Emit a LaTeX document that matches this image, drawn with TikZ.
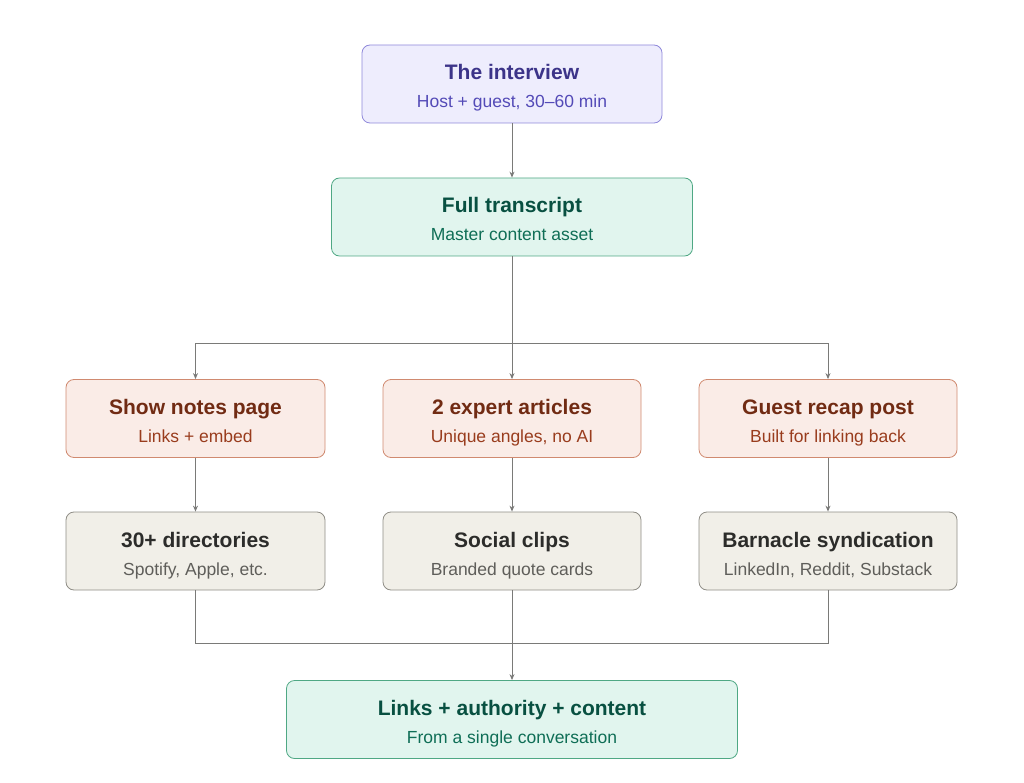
\documentclass[tikz,border=0pt]{standalone}
\usepackage{fontspec}
\setmainfont{Liberation Sans}
\usetikzlibrary{arrows.meta}
\definecolor{pf}{HTML}{EEEDFD}\definecolor{pb}{HTML}{8F88DA}\definecolor{pt}{HTML}{3C3489}\definecolor{ps}{HTML}{534AB7}
\definecolor{gf}{HTML}{E1F5EE}\definecolor{gb}{HTML}{4FA884}\definecolor{gt}{HTML}{085041}\definecolor{gs}{HTML}{0F6E56}
\definecolor{sf}{HTML}{FAECE7}\definecolor{sbd}{HTML}{D08A70}\definecolor{st}{HTML}{712B13}\definecolor{ss}{HTML}{993C1D}
\definecolor{nf}{HTML}{F1EFE8}\definecolor{nb}{HTML}{8F8D86}\definecolor{nt}{HTML}{2C2C2A}\definecolor{ns}{HTML}{5F5E5A}
\definecolor{lnc}{HTML}{7A7A78}
\begin{document}
\begin{tikzpicture}[x=1pt,y=-1pt,
 box/.style 2 args={draw=#2,fill=#1,rounded corners=8pt,line width=0.8pt,inner sep=0pt},
 ttl/.style={font=\bfseries\fontsize{21}{24}\selectfont,anchor=base},
 sub/.style={font=\fontsize{17.5}{20}\selectfont,anchor=base},
 arr/.style={draw=lnc,line width=1pt,-{Stealth[length=6pt,width=5pt]}},
 ln/.style={draw=lnc,line width=1pt}]
\useasboundingbox (0,0) rectangle (1024,783);
\newcommand\mybx[9]{%
 \node[box={#6}{#7},minimum width=#4pt,minimum height=78pt] (#1) at (#2,#3) {};
 \node[ttl,text=#8] at (#2,#3-4) {#5};
 \node[sub,text=#9] at (#2,#3+24) {\mysubtext};}
\newcommand\mysubtext{}
\renewcommand\mysubtext{Host + guest, 30–60 min}
\mybx{a}{512}{84}{300}{The interview}{pf}{pb}{pt}{ps}
\renewcommand\mysubtext{Master content asset}
\mybx{b}{512}{217}{361}{Full transcript}{gf}{gb}{gt}{gs}
\renewcommand\mysubtext{Links + embed}
\mybx{c1}{195.5}{418.5}{259}{Show notes page}{sf}{sbd}{st}{ss}
\renewcommand\mysubtext{Unique angles, no AI}
\mybx{c2}{512}{418.5}{258}{2 expert articles}{sf}{sbd}{st}{ss}
\renewcommand\mysubtext{Built for linking back}
\mybx{c3}{828}{418.5}{258}{Guest recap post}{sf}{sbd}{st}{ss}
\renewcommand\mysubtext{Spotify, Apple, etc.}
\mybx{d1}{195.5}{551}{259}{30+ directories}{nf}{nb}{nt}{ns}
\renewcommand\mysubtext{Branded quote cards}
\mybx{d2}{512}{551}{258}{Social clips}{nf}{nb}{nt}{ns}
\renewcommand\mysubtext{LinkedIn, Reddit, Substack}
\mybx{d3}{828}{551}{258}{Barnacle syndication}{nf}{nb}{nt}{ns}
\renewcommand\mysubtext{From a single conversation}
\mybx{e}{512}{719.5}{451}{Links + authority + content}{gf}{gb}{gt}{gs}
\coordinate (h) at (512,343);
\coordinate (k) at (512,643);
\draw[arr] (a) -- (b);
\draw[ln] (b) -- (h);
\draw[arr] (h) -- (c2);
\draw[arr] (h) -| (c1);
\draw[arr] (h) -| (c3);
\draw[arr] (c1) -- (d1);
\draw[arr] (c2) -- (d2);
\draw[arr] (c3) -- (d3);
\draw[ln] (d1) |- (k);
\draw[ln] (d3) |- (k);
\draw[ln] (d2) -- (k);
\draw[arr] (k) -- (e);
\end{tikzpicture}
\end{document}
